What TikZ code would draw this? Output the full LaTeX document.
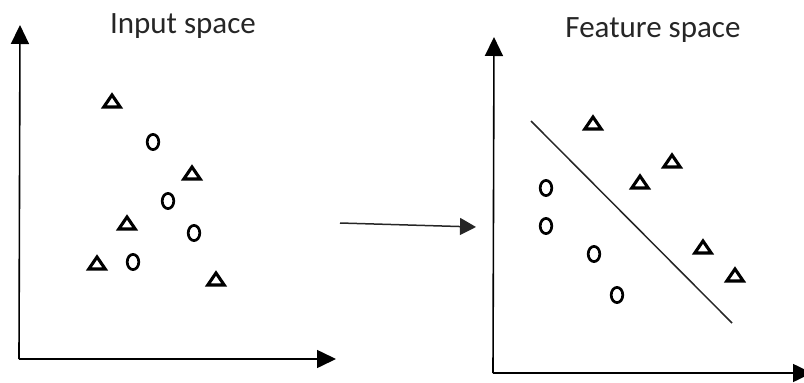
\documentclass[tikz,border=0pt]{standalone}
\usepackage{fontspec}
\setmainfont{Carlito}
\usetikzlibrary{arrows.meta}
\tikzset{
  axis/.style={line width=1.6pt, -{Triangle[length=19pt,width=18pt]}},
  tri/.pic={\draw[line width=3.1pt, line join=miter] (-8.2,6.0) -- (8.2,6.0) -- (0,-6.0) -- cycle;},
  circ/.pic={\draw[line width=2.7pt] (0,0) ellipse [x radius=5.8, y radius=7.6];},
  title/.style={font=\fontsize{31}{36}\selectfont, text=black!85, anchor=base, inner sep=0pt}
}
\begin{document}
\begin{tikzpicture}[x=1pt,y=-1pt]
\useasboundingbox (0,0) rectangle (804,383);
\clip (0,0) rectangle (804,383);
% titles
\node[title] (t1) at (183,33) {Input space};
\node[title] (t2) at (653,37) {Feature space};
% left axes
\coordinate (o1) at (19,359);
\coordinate (y1) at (20,25);
\coordinate (x1) at (336,359);
\draw[axis] (o1) -- (y1);
\draw[axis] (o1) -- (x1);
% right axes
\coordinate (o2) at (493,373);
\coordinate (y2) at (494,37);
\coordinate (x2) at (812,373);
\draw[axis] (o2) -- (y2);
\draw[axis] (o2) -- (x2);
% mapping arrow
\coordinate (m1) at (340,223);
\coordinate (m2) at (476,227);
\draw[line width=1.5pt, black!85, -{Triangle[length=16pt,width=17pt]}] (m1) -- (m2);
% left points
\pic (la) at (112,101) {tri};
\pic (lb) at (153,142) {circ};
\pic (lc) at (192,173) {tri};
\pic (ld) at (168,201) {circ};
\pic (le) at (127,223) {tri};
\pic (lf) at (194,233) {circ};
\pic (lg) at (97,263) {tri};
\pic (lh) at (133,262) {circ};
\pic (li) at (216,279) {tri};
% right points
\pic (ra) at (593,123) {tri};
\pic (rb) at (672,161) {tri};
\pic (rc) at (640,182) {tri};
\pic (rd) at (546,188) {circ};
\pic (re) at (546,226) {circ};
\pic (rf) at (594,254) {circ};
\pic (rg) at (703,247) {tri};
\pic (rh) at (735,275) {tri};
\pic (ri) at (617,295) {circ};
% separating line
\coordinate (s1) at (531,121);
\coordinate (s2) at (732,323);
\draw[line width=1.5pt, black!85] (s1) -- (s2);
\end{tikzpicture}
\end{document}
